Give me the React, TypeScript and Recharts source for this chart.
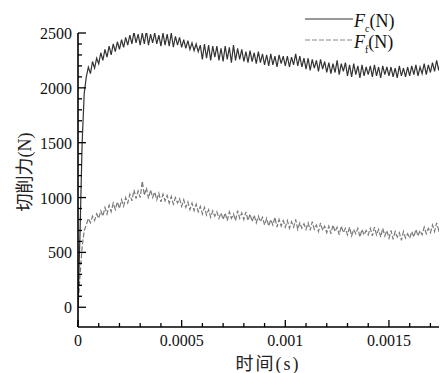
import { Line, LineChart, XAxis, YAxis } from "recharts";

// sampled every 0.00001 s, from t = 0 to t = 0.00178
const STEP = 0.00001;

const fcValues = [
  0, 700, 1500, 1950, 2100, 2190, 2130, 2240, 2180, 2270,
  2220, 2320, 2250, 2350, 2280, 2380, 2300, 2400, 2330, 2420,
  2350, 2440, 2370, 2460, 2390, 2480, 2400, 2510, 2410, 2490,
  2390, 2500, 2400, 2520, 2390, 2490, 2410, 2500, 2400, 2480,
  2380, 2500, 2390, 2490, 2380, 2500, 2370, 2470, 2390, 2460,
  2370, 2440, 2360, 2430, 2350, 2410, 2340, 2400, 2330, 2390,
  2260, 2400, 2270, 2390, 2250, 2380, 2280, 2380, 2250, 2360,
  2240, 2380, 2260, 2370, 2230, 2390, 2250, 2360, 2260, 2350,
  2240, 2330, 2230, 2340, 2240, 2320, 2220, 2330, 2230, 2310,
  2210, 2300, 2200, 2310, 2210, 2290, 2190, 2300, 2220, 2290,
  2200, 2290, 2190, 2280, 2210, 2310, 2200, 2290, 2190, 2270,
  2170, 2270, 2160, 2260, 2180, 2250, 2150, 2260, 2170, 2240,
  2140, 2230, 2130, 2220, 2140, 2250, 2120, 2220, 2150, 2230,
  2110, 2210, 2100, 2220, 2120, 2200, 2090, 2210, 2110, 2190,
  2120, 2200, 2100, 2210, 2110, 2190, 2090, 2200, 2120, 2190,
  2110, 2190, 2100, 2180, 2090, 2200, 2110, 2180, 2100, 2190,
  2110, 2200, 2120, 2210, 2110, 2190, 2130, 2220, 2120, 2210,
  2140, 2230, 2150, 2250, 2160, 2260, 2170, 2270, 2180,
];

const ffValues = [
  0, 300, 550, 700, 750, 810, 770, 830, 790, 850,
  810, 880, 830, 910, 850, 930, 870, 950, 890, 960,
  900, 980, 920, 1000, 950, 1030, 970, 1070, 990, 1060,
  1000, 1150, 1020, 1090, 990, 1070, 1000, 1050, 980, 1040,
  960, 1030, 970, 1020, 950, 1010, 940, 1000, 950, 990,
  920, 980, 910, 960, 890, 950, 880, 940, 870, 920,
  850, 910, 840, 890, 820, 880, 830, 870, 810, 860,
  800, 860, 790, 870, 810, 850, 790, 880, 810, 860,
  800, 870, 790, 850, 780, 840, 770, 830, 780, 820,
  750, 810, 740, 800, 750, 820, 730, 800, 740, 790,
  730, 790, 720, 780, 730, 800, 710, 770, 720, 760,
  710, 770, 700, 780, 710, 750, 690, 770, 700, 740,
  680, 740, 670, 750, 690, 730, 660, 740, 680, 720,
  660, 730, 650, 710, 670, 720, 640, 710, 660, 700,
  660, 720, 650, 730, 660, 710, 640, 720, 650, 700,
  630, 700, 620, 690, 640, 680, 610, 690, 630, 670,
  630, 690, 640, 710, 650, 700, 660, 730, 670, 720,
  680, 750, 690, 770, 700, 760, 710, 780, 720,
];

const xTicks = [
  0, 0.0001, 0.0002, 0.0003, 0.0004, 0.0005, 0.0006, 0.0007, 0.0008, 0.0009,
  0.001, 0.0011, 0.0012, 0.0013, 0.0014, 0.0015, 0.0016, 0.0017,
];
const xMajor = [0, 0.0005, 0.001, 0.0015];

const yTicks = [
  0, 100, 200, 300, 400, 500, 600, 700, 800, 900, 1000, 1100, 1200, 1300,
  1400, 1500, 1600, 1700, 1800, 1900, 2000, 2100, 2200, 2300, 2400, 2500,
];
const yMajor = [0, 500, 1000, 1500, 2000, 2500];

const data = fcValues.map((fc, i) => ({
  t: +(i * STEP).toFixed(5),
  fc,
  ff: ffValues[i],
}));

const SERIF = '"Liberation Serif", "DejaVu Serif", serif';
const CJK = '"Noto Sans CJK SC", sans-serif';

function XTick(props: any) {
  const { x, y, payload } = props;
  const v = payload.value;
  const major = xMajor.some((m) => Math.abs(m - v) < 1e-9);
  return (
    <g>
      <line x1={x} x2={x} y1={y} y2={y - (major ? 7 : 4)} stroke="#000" strokeWidth={1.3} />
      {major && (
        <text x={x} y={y + 19} textAnchor="middle" fontSize={16} fontFamily={SERIF} fill="#111">
          {String(v)}
        </text>
      )}
    </g>
  );
}

function YTick(props: any) {
  const { x, y, payload } = props;
  const v = payload.value;
  const major = yMajor.includes(v);
  return (
    <g>
      <line x1={x} x2={x + (major ? 8 : 4)} y1={y} y2={y} stroke="#000" strokeWidth={1.3} />
      {major && (
        <text x={x - 6} y={y + 6} textAnchor="end" fontSize={16} fontFamily={SERIF} fill="#111">
          {v}
        </text>
      )}
    </g>
  );
}

function LegendRow({ top, dash, sub }: { top: number; dash?: string; sub: string }) {
  return (
    <div style={{ position: "absolute", left: 296, top, display: "flex", alignItems: "center", height: 20 }}>
      <svg width={50} height={20} style={{ marginTop: -6 }}>
        <line x1={1} x2={49} y1={10} y2={10} stroke={dash ? "#888" : "#333"} strokeWidth={1} strokeDasharray={dash} />
      </svg>
      <span style={{ fontFamily: SERIF, fontSize: 18, color: "#111", whiteSpace: "nowrap" }}>
        <i>F</i>
        <sub style={{ fontSize: 10 }}>{sub}</sub>(N)
      </span>
    </div>
  );
}

export default function App() {
  return (
    <div style={{ position: "relative", width: 439, height: 365 }}>
      <LineChart width={439} height={365} data={data} margin={{ top: 25, right: 0, bottom: 0, left: 0 }}>
        <XAxis
          type="number"
          dataKey="t"
          domain={[0, 0.00178]}
          allowDataOverflow
          ticks={xTicks}
          interval={0}
          tickSize={0}
          tickMargin={0}
          tickLine={false}
          tick={(p: any) => <XTick {...p} />}
          axisLine={{ stroke: "#000", strokeWidth: 1.6 }}
          height={46}
        />
        <YAxis
          type="number"
          domain={[-180, 2500]}
          allowDataOverflow
          ticks={yTicks}
          interval={0}
          tickSize={0}
          tickMargin={0}
          tickLine={false}
          tick={(p: any) => <YTick {...p} />}
          axisLine={{ stroke: "#000", strokeWidth: 1.6 }}
          width={70}
        />
        <Line type="linear" dataKey="ff" stroke="#7a7a7a" strokeWidth={1.2} strokeDasharray="5 2" dot={false} isAnimationActive={false} />
        <Line type="linear" dataKey="fc" stroke="#333" strokeWidth={1.2} dot={false} isAnimationActive={false} />
      </LineChart>
      <div
        style={{
          position: "absolute",
          left: 15,
          top: 164,
          transform: "translate(-50%, -50%) rotate(-90deg)",
          whiteSpace: "nowrap",
          fontSize: 18,
          fontFamily: `${SERIF.split(",")[0]}, ${CJK}`,
          color: "#222",
        }}
      >
        切削力(N)
      </div>
      <div
        style={{
          position: "absolute",
          left: 260,
          top: 354,
          transform: "translate(-50%, -50%)",
          whiteSpace: "nowrap",
          fontSize: 18,
          letterSpacing: 2,
          fontFamily: `${SERIF.split(",")[0]}, ${CJK}`,
          color: "#222",
        }}
      >
        时间(s)
      </div>
      <LegendRow top={4} sub="c" />
      <LegendRow top={25} dash="5 2" sub="f" />
    </div>
  );
}
